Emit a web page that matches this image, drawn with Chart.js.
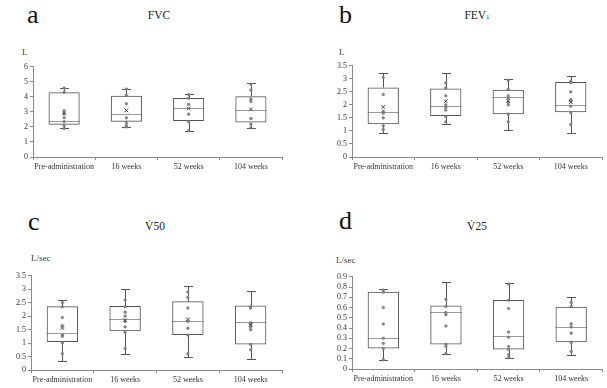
<!DOCTYPE html>
<html>
<head>
<meta charset="utf-8">
<script src="https://cdn.jsdelivr.net/npm/chart.js@4/dist/chart.umd.min.js"></script>
<style>
  html, body { margin:0; padding:0; background:#fff; }
  body { width:607px; height:388px; position:relative; overflow:hidden; font-family:"Liberation Serif","DejaVu Serif",serif; color:#222; }
  canvas { position:absolute; }
  .lbl { position:absolute; white-space:nowrap; line-height:1; }
  .letter { font-size:26px; color:#111; }
  .title { font-size:11.5px; transform:translateX(-50%); color:#222; }
  .unit { font-size:9px; color:#333; }
</style>
</head>
<body>
<div class="lbl letter" style="left:27px;top:2px;">a</div>
<div class="lbl letter" style="left:339px;top:2px;">b</div>
<div class="lbl letter" style="left:28px;top:209px;">c</div>
<div class="lbl letter" style="left:339px;top:208px;">d</div>
<div class="lbl title" style="left:159px;top:10px;">FVC</div>
<div class="lbl title" style="left:477px;top:10px;">FEV<span style="font-size:7px;">1</span></div>
<div class="lbl title" style="left:155px;top:221px;">V&#775;50</div>
<div class="lbl title" style="left:477px;top:221px;">V&#775;25</div>
<div class="lbl unit" style="left:22px;top:48px;">L</div>
<div class="lbl unit" style="left:339px;top:48px;">L</div>
<div class="lbl unit" style="left:31px;top:254px;">L/sec</div>
<div class="lbl unit" style="left:336px;top:256px;">L/sec</div>

<canvas id="cA" width="290" height="115" style="left:0px;top:60px;"></canvas>
<canvas id="cB" width="290" height="116" style="left:319px;top:59px;"></canvas>
<canvas id="cC" width="290" height="119" style="left:0px;top:269px;"></canvas>
<canvas id="cD" width="288" height="117" style="left:319px;top:270px;"></canvas>

<script>
const categories = ['Pre-administration', '16 weeks', '52 weeks', '104 weeks'];

// a: FVC (L)
const fvcMin  = [1.90, 2.00, 1.75, 1.92];
const fvcQ1   = [2.14, 2.34, 2.40, 2.29];
const fvcMed  = [2.42, 2.84, 3.28, 3.12];
const fvcQ3   = [4.30, 4.08, 3.93, 4.04];
const fvcMax  = [4.58, 4.52, 4.19, 4.89];
const fvcMean = [2.90, 3.10, 3.23, 3.17];
const fvcPoints = [
  [4.58, 4.30, 3.08, 2.88, 2.62, 2.35, 2.10, 1.90],
  [4.52, 4.10, 3.54, 2.60, 2.30, 2.10, 2.00],
  [4.15, 3.90, 3.50, 2.85, 2.35, 1.75],
  [4.85, 4.45, 3.85, 3.70, 2.55, 2.20, 1.95]
];
const fvcTicks = { min: 0, max: 6, step: 1 };

// b: FEV1 (L)
const fevMin  = [0.92, 1.26, 1.02, 0.92];
const fevQ1   = [1.26, 1.57, 1.64, 1.72];
const fevMed  = [1.72, 1.97, 2.29, 2.01];
const fevQ3   = [2.67, 2.63, 2.58, 2.88];
const fevMax  = [3.24, 3.22, 3.01, 3.11];
const fevMean = [1.92, 2.14, 2.15, 2.10];
const fevPoints = [
  [3.05, 2.40, 1.75, 1.68, 1.50, 1.20, 1.05],
  [2.84, 2.65, 2.35, 2.00, 1.90, 1.80, 1.55, 1.35],
  [2.95, 2.60, 2.35, 2.25, 2.10, 2.00, 1.65, 1.35],
  [2.90, 2.85, 2.50, 2.20, 2.15, 1.95, 1.70, 1.25]
];
const fevTicks = { min: 0, max: 3.5, step: 0.5 };

// c: V50 (L/sec)
const v50Min  = [0.33, 0.61, 0.48, 0.40];
const v50Q1   = [1.04, 1.44, 1.30, 0.95];
const v50Med  = [1.37, 1.89, 1.82, 1.80];
const v50Q3   = [2.37, 2.38, 2.55, 2.40];
const v50Max  = [2.59, 3.02, 3.12, 2.93];
const v50Mean = [1.56, 1.85, 1.88, 1.67];
const v50Points = [
  [2.50, 2.35, 1.95, 1.65, 1.30, 1.25, 1.00, 0.60],
  [2.60, 2.35, 2.15, 2.00, 1.80, 1.60, 1.40, 0.80],
  [2.90, 2.70, 2.30, 1.80, 1.55, 1.30, 0.60],
  [2.35, 2.30, 1.75, 1.70, 1.60, 1.50, 0.95, 0.75]
];
const v50Ticks = { min: 0, max: 3.5, step: 0.5 };

// d: V25 (L/sec)
const v25Min  = [0.086, 0.15, 0.11, 0.14];
const v25Q1   = [0.20, 0.24, 0.19, 0.26];
const v25Med  = [0.30, 0.56, 0.32, 0.41];
const v25Q3   = [0.754, 0.62, 0.674, 0.607];
const v25Max  = [0.78, 0.846, 0.84, 0.70];
const v25Mean = null;
const v25Points = [
  [0.77, 0.75, 0.60, 0.44, 0.30, 0.25, 0.20, 0.09],
  [0.68, 0.61, 0.55, 0.53, 0.42, 0.24, 0.22, 0.15],
  [0.83, 0.67, 0.59, 0.36, 0.31, 0.22, 0.19, 0.14, 0.11],
  [0.65, 0.61, 0.44, 0.41, 0.35, 0.26, 0.17]
];
const v25Ticks = { min: 0, max: 0.9, step: 0.1 };

const AXIS = '#8a8a8a';
Chart.defaults.font.family = 'Liberation Serif';
const FONT = { family: 'Liberation Serif', size: 8 };

const whiskerPlugin = {
  id: 'whiskers',
  beforeDatasetsDraw(chart) {
    const s = chart.options.plugins.whiskers;
    const meta = chart.getDatasetMeta(0);
    const y = chart.scales.y;
    const ctx = chart.ctx;
    ctx.save();
    ctx.lineWidth = 1;
    meta.data.forEach((bar, i) => {
      const x = Math.round(bar.x) + 0.5;
      const hw = bar.width / 2;
      const py = v => Math.round(y.getPixelForValue(v)) + 0.5;
      ctx.strokeStyle = '#555';
      ctx.beginPath();
      ctx.moveTo(x, py(s.q3[i])); ctx.lineTo(x, py(s.max[i]));
      ctx.moveTo(x - 4.5, py(s.max[i])); ctx.lineTo(x + 4.5, py(s.max[i]));
      ctx.moveTo(x, py(s.q1[i])); ctx.lineTo(x, py(s.min[i]));
      ctx.moveTo(x - 4.5, py(s.min[i])); ctx.lineTo(x + 4.5, py(s.min[i]));
      ctx.stroke();
      ctx.strokeStyle = '#999';
      ctx.beginPath();
      ctx.moveTo(bar.x - hw, py(s.med[i])); ctx.lineTo(bar.x + hw, py(s.med[i]));
      ctx.stroke();
    });
    ctx.restore();
  }
};

function fmt(v) { return String(+Number(v).toFixed(2)); }

function makePanel(id, s, ticks, yWidth, padRight) {
  const datasets = [{
    type: 'bar',
    data: s.q1.map((q, i) => [q, s.q3[i]]),
    backgroundColor: 'rgba(0,0,0,0)',
    borderColor: '#555',
    borderWidth: 1,
    borderSkipped: false,
    barPercentage: 0.5,
    categoryPercentage: 1,
    order: 3
  }];
  const pts = [];
  s.points.forEach((arr, i) => arr.forEach(v => pts.push({ x: categories[i], y: v })));
  datasets.push({
    type: 'line',
    data: pts,
    showLine: false,
    pointStyle: 'circle',
    pointRadius: 1.3,
    pointBackgroundColor: '#8a8a8a',
    pointBorderColor: '#666',
    pointBorderWidth: 0.5,
    order: 2
  });
  if (s.mean) {
    datasets.push({
      type: 'line',
      data: s.mean.map((v, i) => ({ x: categories[i], y: v })),
      showLine: false,
      pointStyle: 'crossRot',
      pointRadius: 2.6,
      pointBorderColor: '#444',
      pointBorderWidth: 1,
      order: 1
    });
  }
  new Chart(document.getElementById(id), {
    data: { labels: categories, datasets },
    plugins: [whiskerPlugin],
    options: {
      responsive: false,
      animation: false,
      events: [],
      layout: { padding: { left: 0, top: 5, right: padRight, bottom: 0 } },
      plugins: {
        legend: { display: false },
        tooltip: { enabled: false },
        title: { display: false },
        whiskers: s
      },
      scales: {
        x: {
          type: 'category',
          offset: true,
          grid: { offset: true, drawOnChartArea: false, drawTicks: true, tickLength: 3, color: AXIS },
          border: { display: true, color: AXIS, width: 1 },
          ticks: { font: FONT, color: '#333', padding: 2, maxRotation: 0, autoSkip: false },
          afterFit(sc) { sc.height = 18; }
        },
        y: {
          min: ticks.min, max: ticks.max,
          grid: { drawOnChartArea: false, drawTicks: true, tickLength: 3, color: AXIS },
          border: { display: true, color: AXIS, width: 1 },
          ticks: { stepSize: ticks.step, font: FONT, color: '#333', padding: 2, autoSkip: false, callback: fmt },
          afterFit(sc) { sc.width = yWidth; }
        }
      }
    }
  });
}

makePanel('cA', { min: fvcMin, q1: fvcQ1, med: fvcMed, q3: fvcQ3, max: fvcMax, mean: fvcMean, points: fvcPoints }, fvcTicks, 33, 8);
makePanel('cB', { min: fevMin, q1: fevQ1, med: fevMed, q3: fevQ3, max: fevMax, mean: fevMean, points: fevPoints }, fevTicks, 33, 7);
makePanel('cC', { min: v50Min, q1: v50Q1, med: v50Med, q3: v50Q3, max: v50Max, mean: v50Mean, points: v50Points }, v50Ticks, 31, 8);
makePanel('cD', { min: v25Min, q1: v25Q1, med: v25Med, q3: v25Q3, max: v25Max, mean: v25Mean, points: v25Points }, v25Ticks, 33, 1);
</script>
</body>
</html>
